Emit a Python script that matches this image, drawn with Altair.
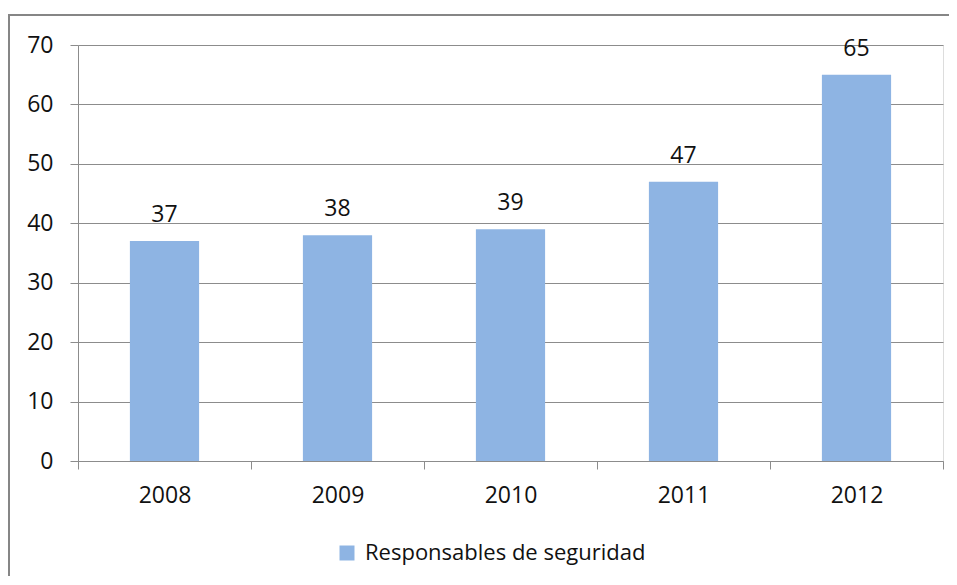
import altair as alt
import pandas as pd

years = ["2008", "2009", "2010", "2011", "2012"]
values = [37, 38, 39, 47, 65]
series_name = "Responsables de seguridad"

df = pd.DataFrame({"year": years, "value": values, "serie": [series_name] * len(years)})
frame_df = pd.DataFrame({"k": [0]})

W, H = 865, 416
PAD_R, PAD_B = 6, 115
FONT = "Open Sans"
FS = 23
GRAY = "#8c8c8c"
BAR = "#8EB4E3"

x_enc = alt.X(
    "year:N",
    title=None,
    sort=years,
    scale=alt.Scale(paddingInner=0, paddingOuter=0),
    axis=alt.Axis(
        tickBand="extent",
        grid=False,
        domainColor=GRAY,
        tickColor=GRAY,
        tickSize=8,
        labelPadding=15,
        labelFont=FONT,
        labelFontSize=FS,
        labelColor="#111",
        labelAngle=0,
    ),
)
y_enc = alt.Y(
    "value:Q",
    title=None,
    scale=alt.Scale(domain=[0, 70], nice=False),
    axis=alt.Axis(
        values=[0, 10, 20, 30, 40, 50, 60, 70],
        grid=True,
        gridColor=GRAY,
        domainColor=GRAY,
        tickColor=GRAY,
        tickSize=8,
        labelPadding=17,
        labelFont=FONT,
        labelFontSize=FS,
        labelColor="#111",
    ),
)

bars = alt.Chart(df).mark_bar(color=BAR, width=alt.RelativeBandSize(0.4)).encode(
    x=x_enc,
    y=y_enc,
    color=alt.Color(
        "serie:N",
        scale=alt.Scale(range=[BAR]),
        legend=alt.Legend(
            orient="none",
            legendX=258,
            legendY=497,
            title=None,
            padding=0,
            symbolType="square",
            symbolSize=225,
            symbolStrokeWidth=0,
            symbolOpacity=1,
            labelFont=FONT,
            labelFontSize=22,
            labelColor="#111",
            labelOffset=7,
            labelLimit=0,
        ),
    ),
)

labels = alt.Chart(df).mark_text(
    baseline="alphabetic", dy=-19, font=FONT, fontSize=FS, color="#111"
).encode(x=alt.X("year:N", sort=years), y="value:Q", text="value:Q")

frame_top = alt.Chart(frame_df).mark_rule(color="#868686", strokeWidth=2).encode(
    x=alt.value(-70), x2=alt.value(W + PAD_R), y=alt.value(-30)
)
frame_left = alt.Chart(frame_df).mark_rule(color="#868686", strokeWidth=2).encode(
    x=alt.value(-69), y=alt.value(-31), y2=alt.value(H + PAD_B)
)

chart = (
    alt.layer(frame_top, frame_left, bars, labels)
    .properties(
        width=W,
        height=H,
        autosize=alt.AutoSizeParams(type="none"),
        padding={"left": 70, "top": 37, "right": PAD_R, "bottom": PAD_B},
    )
    .configure_view(stroke=None)
    .configure(background="white")
)

chart.save("out.html", embed_options={"renderer": "svg", "actions": False})
